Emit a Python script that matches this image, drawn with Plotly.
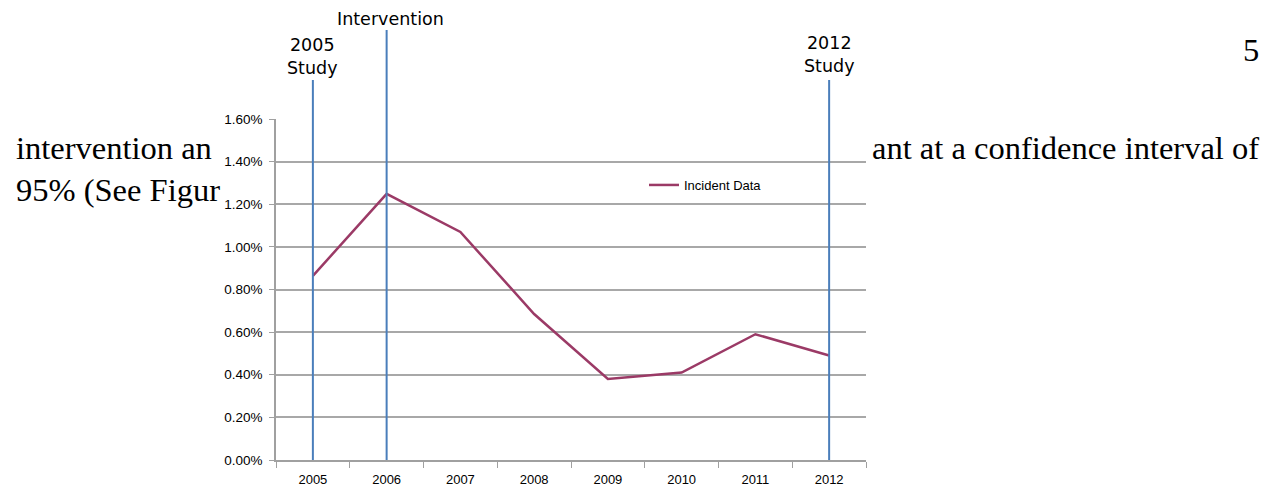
import plotly.graph_objects as go

# ---- data ----
years = [2005, 2006, 2007, 2008, 2009, 2010, 2011, 2012]
incident_rate = [0.00864, 0.01249, 0.01070, 0.00685, 0.00380, 0.00410, 0.00590, 0.00490]
series_name = "Incident Data"
marker_years = [2005, 2006, 2012]
marker_labels = ["2005<br>Study", "Intervention", "2012<br>Study"]
y_ticks = [0, 0.002, 0.004, 0.006, 0.008, 0.010, 0.012, 0.014, 0.016]
doc_line1_left = "intervention an"
doc_line1_right = "ant at a confidence interval of"
doc_line2_left = "95% (See Figur"
page_number = "5"

W, H = 1267, 489
L, R, T, B = 276, 1267 - 866, 119, 29
PW, PH = W - L - R, H - T - B

def px_x(px):
    return (px - L) / PW

def px_y(py):
    return (H - B - py) / PH

fig = go.Figure()
fig.add_trace(go.Scatter(
    x=years, y=incident_rate, mode="lines", name=series_name,
    line=dict(color="#9b3a66", width=2.5), showlegend=True,
))

# vertical marker lines
line_tops = {2005: 80, 2006: 30, 2012: 80}
label_centers = {2005: 57, 2006: 19, 2012: 55}
for yr, lab in zip(marker_years, marker_labels):
    fig.add_shape(type="line", xref="x", yref="paper", x0=yr, x1=yr,
                  y0=0, y1=px_y(line_tops[yr]),
                  line=dict(color="#4a7ebb", width=2), layer="above")
    fig.add_annotation(xref="x", yref="paper", x=yr + (0.05 if yr == 2006 else 0),
                       y=px_y(label_centers[yr]), text=lab, showarrow=False,
                       xanchor="center", yanchor="middle",
                       font=dict(family="DejaVu Sans", size=17.5, color="#000"))

# document text around the pasted chart
serif = dict(family="Liberation Serif", size=32.5, color="#000")
fig.add_annotation(xref="paper", yref="paper", x=px_x(14), y=px_y(148), text=doc_line1_left,
                   showarrow=False, xanchor="left", yanchor="middle", font=serif)
fig.add_annotation(xref="paper", yref="paper", x=px_x(14), y=px_y(190), text=doc_line2_left,
                   showarrow=False, xanchor="left", yanchor="middle", font=serif)
fig.add_annotation(xref="paper", yref="paper", x=px_x(1261), y=px_y(148), text=doc_line1_right,
                   showarrow=False, xanchor="right", yanchor="middle", font=serif)
fig.add_annotation(xref="paper", yref="paper", x=px_x(1261), y=px_y(50), text=page_number,
                   showarrow=False, xanchor="right", yanchor="middle", font=serif)

fig.update_xaxes(
    range=[years[0] - 0.5, years[-1] + 0.5],
    tickvals=years, ticktext=[str(y) for y in years],
    showgrid=False, zeroline=False, automargin=False,
    showline=True, linecolor="#a0a0a0", linewidth=1.5,
    ticks="", ticklabelstandoff=7,
    minor=dict(tickvals=[y - 0.5 for y in years] + [years[-1] + 0.5],
               ticks="outside", ticklen=6, tickcolor="#a0a0a0", tickwidth=1),
    tickfont=dict(family="Liberation Sans", size=13, color="#000"),
)
fig.update_yaxes(
    range=[0, 0.016], tickvals=y_ticks, tickformat=".2%",
    showgrid=True, gridcolor="#a8a8a8", gridwidth=1.5, zeroline=False, automargin=False,
    showline=True, linecolor="#a0a0a0", linewidth=1.5,
    ticks="outside", ticklen=5, tickcolor="#a0a0a0", ticklabelstandoff=4,
    tickfont=dict(family="Liberation Sans", size=13.5, color="#000"),
)
fig.update_layout(
    width=W, height=H,
    margin=dict(l=L, r=R, t=T, b=B),
    paper_bgcolor="white", plot_bgcolor="white",
    legend=dict(x=px_x(644), y=px_y(185), xanchor="left", yanchor="middle",
                bgcolor="rgba(0,0,0,0)", font=dict(family="Liberation Sans", size=13, color="#000")),
)
fig.write_html("out.html")
